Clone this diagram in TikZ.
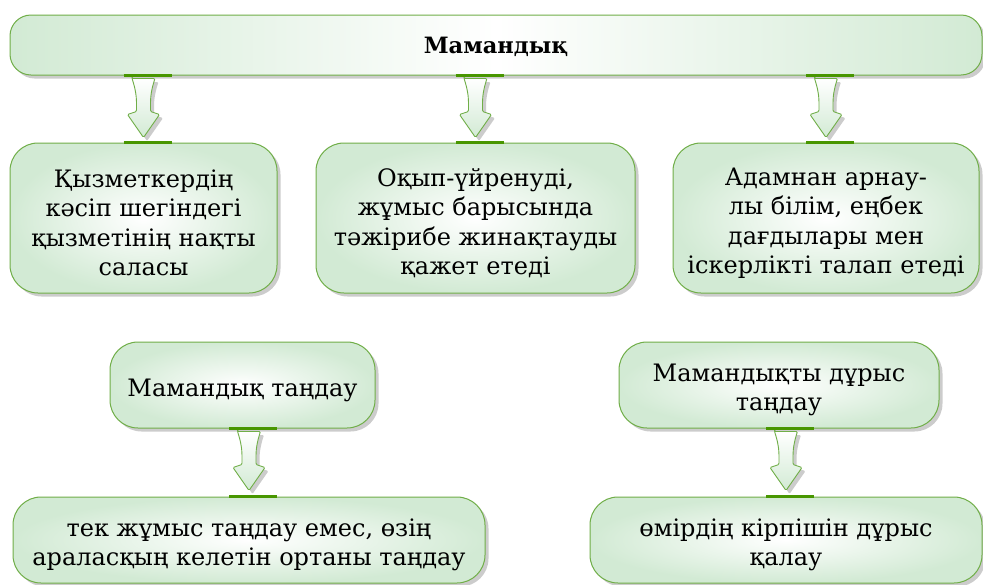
\documentclass[tikz,border=0pt]{standalone}
\usepackage{fontspec}
\setmainfont{DejaVu Serif}
\usetikzlibrary{shadows}
\definecolor{boxline}{RGB}{112,174,72}
\definecolor{barline}{RGB}{72,150,0}
\definecolor{boxfill}{RGB}{210,234,212}
\tikzset{
  shad/.style={drop shadow={opacity=0.4,shadow xshift=3.5pt,shadow yshift=-3.5pt}},
  box/.style={draw=boxline,line width=1pt,rounded corners=28pt,shad,
    inner color=white,outer color=boxfill,inner sep=0pt},
  boxtext/.style={align=center,inner sep=0pt,yshift=-5pt,
    font=\fontsize{24}{29.5}\selectfont},
  topbox/.style={draw=boxline,line width=1pt,rounded corners=21pt,shad,
    left color=boxfill,right color=boxfill,middle color=white,inner sep=0pt},
  toptext/.style={inner sep=0pt,yshift=-2pt,font=\fontsize{22.5}{26}\selectfont\bfseries},
  flowarr/.style={draw=boxline,line width=0.9pt,rounded corners=1.2pt,
    top color=white,bottom color=boxfill,shad},
  bar/.style={draw=barline,line width=3pt}
}
\newcommand{\flowarrow}[2]{%
  \path (#2.north) coordinate (fa-b);
  \path (fa-b |- #1.south) coordinate (fa-a);
  \begin{scope}[shift={(fa-a)}]
    \path[flowarr] (-11.5,3) -- (11.5,3) .. controls (8.5,12) and (7,20) .. (7,28)
      -- (7,36) -- (16,39) -- (0,62) -- (-16,39) -- (-7,36) -- (-7,28)
      .. controls (-7,20) and (-8.5,12) .. (-11.5,3) -- cycle;
    \draw[bar] (-20,0) -- (28,0);
  \end{scope}
  \draw[bar] ([xshift=-20pt]fa-b) -- ([xshift=28pt]fa-b);
}
\begin{document}
\begin{tikzpicture}[x=1pt,y=-1pt]
\useasboundingbox[fill=white] (0,0) rectangle (983,584);
\node[topbox,minimum width=972pt,minimum height=60pt] (top) at (496,45) {};
\node[toptext] (topt) at (top.center) {Мамандық};
\node[box,minimum width=267pt,minimum height=150pt] (b1) at (143.5,218) {};
\node[boxtext] (b1t) at (b1.center)
  {Қызметкердің\\кәсіп шегіндегі\\қызметінің нақты\\саласы};
\node[box,minimum width=319pt,minimum height=150pt] (b2) at (475.5,218) {};
\node[boxtext] (b2t) at (b2.center)
  {Оқып-үйренуді,\\жұмыс барысында\\тәжірибе жинақтауды\\қажет етеді};
\node[box,minimum width=306pt,minimum height=150pt] (b3) at (826,218) {};
\node[boxtext] (b3t) at (b3.center)
  {Адамнан арнау-\\лы білім, еңбек\\дағдылары мен\\іскерлікті талап етеді};
\node[box,minimum width=265pt,minimum height=86pt] (c1) at (242.5,385) {};
\node[boxtext] (c1t) at (c1.center) {Мамандық таңдау};
\node[box,minimum width=320pt,minimum height=86pt] (c2) at (779,385) {};
\node[boxtext] (c2t) at (c2.center) {Мамандықты дұрыс\\таңдау};
\node[box,minimum width=472pt,minimum height=86pt] (d1) at (249,540) {};
\node[boxtext] (d1t) at (d1.center)
  {тек жұмыс таңдау емес, өзің\\араласқың келетін ортаны таңдау};
\node[box,minimum width=392pt,minimum height=86pt] (d2) at (786,540) {};
\node[boxtext] (d2t) at (d2.center) {өмірдің кірпішін дұрыс\\қалау};
\flowarrow{top}{b1}
\flowarrow{top}{b2}
\flowarrow{top}{b3}
\flowarrow{c1}{d1}
\flowarrow{c2}{d2}
\end{tikzpicture}
\end{document}
